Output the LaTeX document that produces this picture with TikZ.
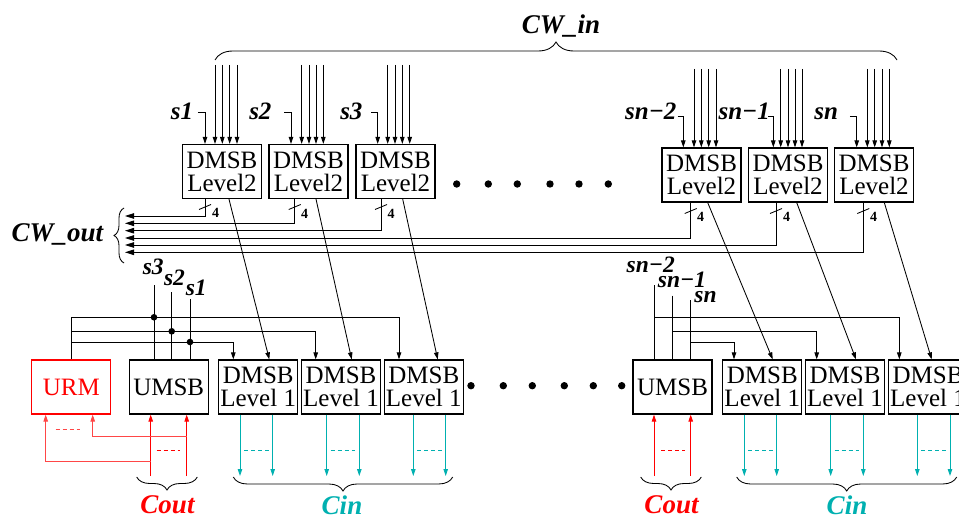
\documentclass[tikz,border=0pt]{standalone}
\usepackage{fontspec}
\setmainfont{Liberation Serif}
\usetikzlibrary{arrows.meta,decorations.pathreplacing,calc}
\definecolor{cinc}{RGB}{0,176,176}
\definecolor{coutc}{RGB}{255,0,0}
\definecolor{urmc}{RGB}{255,70,70}
\begin{document}
\begin{tikzpicture}[x=1pt,y=-1pt,
  box/.style={draw, line width=1.2pt, minimum width=79pt, minimum height=54pt, inner sep=0pt, align=center, font=\fontsize{25}{23}\selectfont},
  lbl/.style={inner sep=0pt, font=\fontsize{25}{25}\selectfont\bfseries\itshape},
  biglbl/.style={inner sep=0pt, font=\fontsize{27}{27}\selectfont\bfseries\itshape},
  smalllbl/.style={inner sep=0pt, font=\fontsize{23.5}{23.5}\selectfont\bfseries\itshape},
  num/.style={inner sep=0pt, font=\fontsize{14}{14}\selectfont\bfseries},
  wire/.style={line width=0.85pt},
  arr/.style={wire, -{Triangle[length=7pt,width=4.5pt]}},
  barr/.style={wire, -{Triangle[length=9pt,width=5.5pt]}},
  rarr/.style={arr, draw=coutc},
  parr/.style={arr, draw=urmc},
  carr/.style={arr, draw=cinc},
  dsh/.style={line width=0.9pt, dash pattern=on 4pt off 3pt},
  brc/.style={wire, decorate},
  jdot/.style={fill, radius=3.3pt},
  edot/.style={fill, radius=3.7pt}
]
\path[use as bounding box] (0,0) rectangle (959,519);
\clip (0,0) rectangle (959,519);

% ---------- level 2 boxes ----------
\node[box] (b1) at (222,171.5) {DMSB\\Level2};
\node[box] (b2) at (308.5,171.5) {DMSB\\Level2};
\node[box] (b3) at (395.5,171.5) {DMSB\\Level2};
\node[box] (b4) at (701.5,175) {DMSB\\Level2};
\node[box] (b5) at (788,175) {DMSB\\Level2};
\node[box] (b6) at (874,175) {DMSB\\Level2};

% ---------- level 1 boxes ----------
\node[box, draw=coutc, text=coutc] (urm) at (71.3,387) {URM};
\node[box] (u1) at (168.7,387) {UMSB};
\node[box] (dA) at (258.2,387) {DMSB\\Level 1};
\node[box] (dB) at (341,387) {DMSB\\Level 1};
\node[box] (dC) at (423.8,387) {DMSB\\Level 1};
\node[box] (u2) at (672.5,387) {UMSB};
\node[box] (dD) at (762.3,387) {DMSB\\Level 1};
\node[box] (dE) at (845,387) {DMSB\\Level 1};
\node[box] (dF) at (928,387) {DMSB\\Level 1};

% ---------- labels ----------
\node[biglbl, anchor=base] (cwin) at (561,33.3) {CW\_in};
\node[biglbl, anchor=base east] (cwout) at (103.3,241.7) {CW\_out};
\node[lbl, anchor=base east] (ls1) at (193.3,119) {s1};
\node[lbl, anchor=base east] (ls2) at (271.7,119) {s2};
\node[lbl, anchor=base east] (ls3) at (362.7,119) {s3};
\node[lbl, anchor=base east] (ls4) at (676.7,119) {sn−2};
\node[lbl, anchor=base east] (ls5) at (770,119) {sn−1};
\node[lbl, anchor=base east] (ls6) at (838.3,119) {sn};

\node[smalllbl, anchor=base] (ms3) at (153.3,274) {s3};
\node[smalllbl, anchor=base] (ms2) at (174.5,285) {s2};
\node[smalllbl, anchor=base] (ms1) at (196.2,295) {s1};
\node[smalllbl, anchor=base] (mn2) at (650.8,272.5) {sn−2};
\node[smalllbl, anchor=base] (mn1) at (682,287.5) {sn−1};
\node[smalllbl, anchor=base] (mn0) at (705.5,302.5) {sn};

\node[biglbl, anchor=base, text=coutc] (cout1) at (167.5,513) {Cout};
\node[biglbl, anchor=base, text=cinc] (cin1) at (342,514.5) {Cin};
\node[biglbl, anchor=base, text=coutc] (cout2) at (671.5,513) {Cout};
\node[biglbl, anchor=base, text=cinc] (cin2) at (847,514.5) {Cin};

% ---------- CW_in brace and bus inputs ----------
\draw[brc, decoration={brace, amplitude=18pt}] (215,60) -- (897,60);
\foreach \b/\xa/\xb/\xc/\xd/\yt in {b1/215/222.3/229.7/237/65, b2/301.7/309/316/323.3/65, b3/387.7/395/402.3/409.7/65, b4/694/701.3/708.7/716/69, b5/780.7/788/795/802/69, b6/867.3/874.7/882/889.3/69}{
  \foreach \x in {\xa,\xb,\xc,\xd} \draw[arr] (\x,\yt) -- (\b.north -| \x,0);
}
% select inputs of level 2
\draw[arr] ([shift={(4.5,-7)}]ls1.base east) -| (b1.north -| 205,0);
\draw[arr] ([shift={(12.5,-7)}]ls2.base east) -| (b2.north -| 291,0);
\draw[arr] ([shift={(8.5,-7)}]ls3.base east) -| (b3.north -| 377.7,0);
\draw[arr] ([shift={(1,-3)}]ls4.base east) -| (b4.north -| 683.3,0);
\draw[arr] ([shift={(-2,-3)}]ls5.base east) -| (b5.north -| 773.3,0);
\draw[arr] ([shift={(11.5,-3)}]ls6.base east) -| (b6.north -| 856.7,0);

% ---------- CW_out ----------
\coordinate (o1) at (125,216);
\coordinate (o2) at (125,223.3);
\coordinate (o3) at (125,230.7);
\coordinate (o4) at (125,238);
\coordinate (o5) at (125,245);
\coordinate (o6) at (125,252.3);
\draw[barr] (b1.south -| 205,0) |- (o1);
\draw[barr] (b2.south -| 294.7,0) |- (o2);
\draw[barr] (b3.south -| 381,0) |- (o3);
\draw[barr] (b4.south -| 690.7,0) |- (o4);
\draw[barr] (b5.south -| 776,0) |- (o5);
\draw[barr] (b6.south -| 863.3,0) |- (o6);
\foreach \x/\yy in {205/207, 294.7/207, 381/207, 690.7/211, 776/211, 863.3/211}{
  \draw[wire] (\x-6,\yy+2.5) -- (\x+6,\yy-2.5);
}
\node[num] (n1) at (215.5,213) {4};
\node[num] (n2) at (304.5,214) {4};
\node[num] (n3) at (391,214) {4};
\node[num] (n4) at (700.5,216.5) {4};
\node[num] (n5) at (786.5,216.5) {4};
\node[num] (n6) at (873.5,216.5) {4};
\draw[brc, decoration={brace, amplitude=10pt}] (124,263) -- (124,208);

% ---------- level2 -> level1 diagonals ----------
\draw[arr] (b1.south -| 229,0) -- (dA.north -| 269.3,0);
\draw[arr] (b2.south -| 316,0) -- (dB.north -| 351.7,0);
\draw[arr] (b3.south -| 402.7,0) -- (dC.north -| 437.7,0);
\draw[arr] (b4.south -| 707.7,0) -- (dD.north -| 772.7,0);
\draw[arr] (b5.south -| 796.7,0) -- (dE.north -| 856,0);
\draw[arr] (b6.south -| 884.3,0) -- (dF.north -| 931.7,0);

% ---------- left select bus ----------
\draw[wire] (154,285) -- (u1.north -| 154,0);
\draw[wire] (171.7,292) -- (u1.north -| 171.7,0);
\draw[wire] (190,299.3) -- (u1.north -| 190,0);
\draw[arr] (urm.north) |- (399,317.3) -- (dC.north -| 399,0);
\draw[arr] (urm.north |- 0,331.3) -| (dB.north -| 315.7,0);
\draw[arr] (urm.north |- 0,342) -| (dA.north -| 233.3,0);
\fill[jdot] (154,317.3) circle;
\fill[jdot] (171.7,331.3) circle;
\fill[jdot] (190,342) circle;

% ---------- right select bus ----------
\draw[wire] (654.3,285) -- (u2.north -| 654.3,0);
\draw[wire] (672.7,295.7) -- (u2.north -| 672.7,0);
\draw[wire] (690.7,300) -- (u2.north -| 690.7,0);
\draw[arr] (654.3,317.3) -| (dF.north -| 899.3,0);
\draw[arr] (672.7,331.3) -| (dE.north -| 816.7,0);
\draw[arr] (690.7,342) -| (dD.north -| 734,0);

% ---------- ellipsis dots ----------
\foreach \x in {456.7,488.3,517.3,550,579,608.3} \fill[edot] (\x,184) circle;
\foreach \x in {471,503.3,532.3,564.3,593.3,621.7} \fill[edot] (\x,385.7) circle;

% ---------- Cout (left) ----------
\draw[rarr] (150.7,476) -- (u1.south -| 150.7,0);
\draw[rarr] (186.7,476) -- (u1.south -| 186.7,0);
\draw[dsh, draw=coutc] (156.7,450.7) -- (180,450.7);
\draw[parr] (150.7,461.3) -| (urm.south -| 45.7,0);
\draw[parr] (186.7,436.7) -| (urm.south -| 92.7,0);
\draw[dsh, draw=urmc] (55.7,429) -- (80,429);
\draw[brc, decoration={brace, amplitude=13pt}] (197.3,477) -- (136.7,477);

% ---------- Cout (right) ----------
\draw[rarr] (654,476) -- (u2.south -| 654,0);
\draw[rarr] (690.7,476) -- (u2.south -| 690.7,0);
\draw[dsh, draw=coutc] (661,450.7) -- (685,450.7);
\draw[brc, decoration={brace, amplitude=13pt}] (701.3,477) -- (640.7,477);

% ---------- Cin ----------
\foreach \b/\xa/\xb in {dA/240/272.7, dB/326.7/359.3, dC/413.3/445.7, dD/744.3/776.7, dE/830.7/863.3, dF/917.3/950}{
  \draw[carr] (\b.south -| \xa,0) -- (\xa,476);
  \draw[carr] (\b.south -| \xb,0) -- (\xb,476);
  \draw[dsh, draw=cinc] (\xa+4,450.7) -- (\xb-4,450.7);
}
\draw[brc, decoration={brace, amplitude=14pt}] (452.7,477) -- (233.3,477);
\draw[brc, decoration={brace, amplitude=14pt}] (956.7,477) -- (736.7,477);
\end{tikzpicture}
\end{document}
